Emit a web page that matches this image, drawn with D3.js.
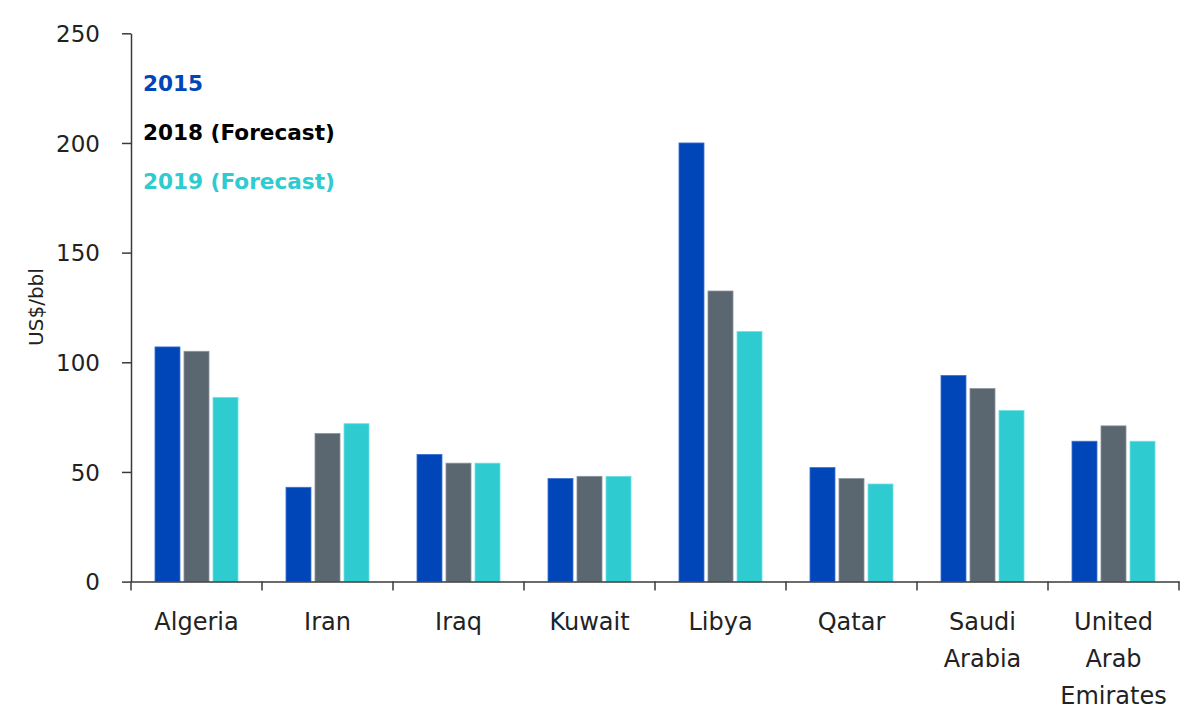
<!DOCTYPE html>
<html>
<head>
<meta charset="utf-8">
<script src="https://cdn.jsdelivr.net/npm/d3@7"></script>
<style>
  html, body { margin: 0; padding: 0; background: #fff; }
  svg { display: block; font-family: "DejaVu Sans", "Open Sans", sans-serif; }
</style>
</head>
<body>
<svg id="chart" width="1200" height="728"></svg>
<script>
(function () {
  'use strict';

  // Breakeven oil price by country, US$/bbl
  const COUNTRIES = ['Algeria', 'Iran', 'Iraq', 'Kuwait', 'Libya', 'Qatar', 'Saudi Arabia', 'United Arab Emirates'];
  const COUNTRY_LINES = [['Algeria'], ['Iran'], ['Iraq'], ['Kuwait'], ['Libya'], ['Qatar'], ['Saudi', 'Arabia'], ['United', 'Arab', 'Emirates']];
  const SERIES = ['2015', '2018 (Forecast)', '2019 (Forecast)'];
  const V2015 = [107, 43, 58, 47, 200, 52, 94, 64];
  const V2018 = [105, 67.5, 54, 48, 132.5, 47, 88, 71];
  const V2019 = [84, 72, 54, 48, 114, 44.5, 78, 64];
  const Y_TICKS = [0, 50, 100, 150, 200, 250];

  const COLORS = ['#0046B9', '#5A6670', '#2ECBD1'];
  const STROKES = ['#3C72D4', '#8A949C', '#6FE0E4'];
  const LEGEND_COLORS = ['#0046B9', '#000000', '#2ECBD1'];
  const AXIS_COLOR = '#3A3A3A';
  const TEXT_COLOR = '#222';

  const values = [V2015, V2018, V2019];
  const svg = d3.select('#chart');

  const margin = { top: 33.3, left: 131, right: 21, bottom: 146.4 };
  const W = 1200, H = 728;

  const x0 = d3.scaleBand().domain(COUNTRIES).range([margin.left, W - margin.right]).padding(0);
  const x1 = d3.scaleBand().domain(SERIES).range([0, x0.bandwidth()])
    .paddingInner(0.138).paddingOuter(0.827);
  const y = d3.scaleLinear().domain([0, 250]).range([H - margin.bottom, margin.top]);

  // Bars
  SERIES.forEach((s, si) => {
    svg.append('g')
      .selectAll('rect')
      .data(COUNTRIES.map((c, ci) => ({ c, v: values[si][ci] })))
      .join('rect')
      .attr('x', d => x0(d.c) + x1(s))
      .attr('y', d => y(d.v))
      .attr('width', x1.bandwidth())
      .attr('height', d => y(0) - y(d.v))
      .attr('fill', COLORS[si])
      .attr('stroke', STROKES[si])
      .attr('stroke-width', 0.8);
  });

  // Y axis
  const yAxis = svg.append('g')
    .attr('transform', `translate(${margin.left},0)`)
    .call(d3.axisLeft(y).tickValues(Y_TICKS).tickSize(9).tickSizeOuter(0).tickPadding(22));
  yAxis.select('.domain').attr('stroke', AXIS_COLOR).attr('stroke-width', 1.5);
  yAxis.selectAll('.tick line').attr('stroke', AXIS_COLOR).attr('stroke-width', 1.5);
  yAxis.selectAll('.tick text')
    .attr('fill', TEXT_COLOR).attr('font-size', 23).attr('dy', '0.36em')
    .style('font-family', '"DejaVu Sans", sans-serif');

  // X axis: labels centred, ticks at category boundaries
  const xAxis = svg.append('g')
    .attr('transform', `translate(0,${y(0)})`)
    .call(d3.axisBottom(x0).tickSize(0).tickSizeOuter(0).tickFormat(''));
  xAxis.select('.domain').attr('stroke', AXIS_COLOR).attr('stroke-width', 1.5);

  const bounds = COUNTRIES.map(c => x0(c)).concat([x0.range()[1]]);
  xAxis.selectAll('line.bound')
    .data(bounds)
    .join('line')
    .attr('class', 'bound')
    .attr('x1', d => d).attr('x2', d => d)
    .attr('y1', 0).attr('y2', 9)
    .attr('stroke', AXIS_COLOR).attr('stroke-width', 1.5);

  const labels = svg.append('g')
    .selectAll('text')
    .data(COUNTRIES)
    .join('text')
    .attr('x', c => x0(c) + x0.bandwidth() / 2)
    .attr('y', y(0) + 48)
    .attr('text-anchor', 'middle')
    .attr('fill', TEXT_COLOR)
    .attr('font-size', 24);
  labels.each(function (c, i) {
    const t = d3.select(this);
    COUNTRY_LINES[i].forEach((line, li) => {
      t.append('tspan')
        .attr('x', x0(c) + x0.bandwidth() / 2)
        .attr('dy', li === 0 ? 0 : 37)
        .text(line);
    });
  });

  // Y axis title
  svg.append('text')
    .attr('transform', `translate(43,307) rotate(-90)`)
    .attr('text-anchor', 'middle')
    .attr('fill', TEXT_COLOR)
    .attr('font-size', 20)
    .text('US$/bbl');

  // Legend (coloured text)
  const legendY = [91, 140, 189];
  svg.append('g')
    .selectAll('text')
    .data(SERIES)
    .join('text')
    .attr('x', 143)
    .attr('y', (d, i) => legendY[i])
    .attr('fill', (d, i) => LEGEND_COLORS[i])
    .attr('font-size', 21.6)
    .attr('font-weight', 700)
    .text(d => d);
})();
</script>
</body>
</html>
